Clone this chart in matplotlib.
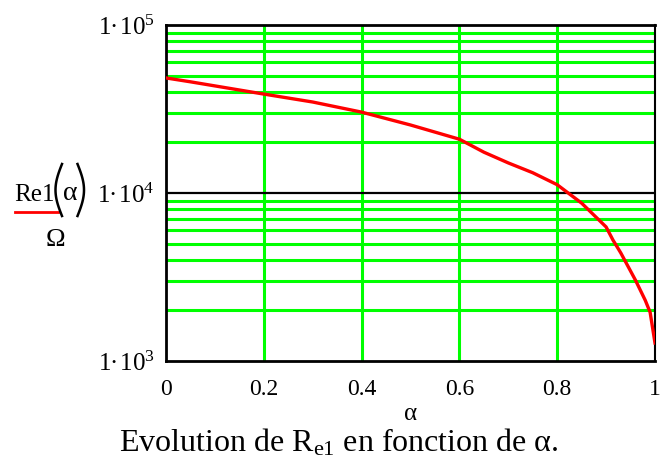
import matplotlib
matplotlib.use("Agg")
import matplotlib.pyplot as plt
import numpy as np

# alpha values and Re1(alpha) in ohms
alpha = [0.0, 0.05, 0.1, 0.2, 0.3, 0.4, 0.5, 0.6, 0.65, 0.7, 0.75, 0.8, 0.85, 0.9, 0.914, 0.93, 0.96, 0.98, 0.99, 1.0]
re1 = [48400, 45900, 43400, 38800, 34800, 30300, 25400, 20900, 17500, 15100, 13200, 11200, 8700, 6280, 5250, 4400, 3030, 2300, 1950, 1280]

xticks = [0, 0.2, 0.4, 0.6, 0.8, 1]
xlabels = ["0", "0.2", "0.4", "0.6", "0.8", "1"]
yticks = [1e3, 1e4, 1e5]
ylabels = [r"$1{\bullet}\,10^{3}$", r"$1{\bullet}\,10^{4}$", r"$1{\bullet}\,10^{5}$"]

plt.rcParams["font.family"] = ["Liberation Serif", "DejaVu Serif"]
plt.rcParams["mathtext.fontset"] = "custom"
plt.rcParams["mathtext.rm"] = "Liberation Serif"
plt.rcParams["mathtext.it"] = "Liberation Serif:italic"
plt.rcParams["mathtext.bf"] = "Liberation Serif:bold"

W, H = 661, 465
fig = plt.figure(figsize=(W / 100, H / 100), dpi=100)
ax = fig.add_axes([166 / W, 1 - 361 / H, 489 / W, 336 / H])

green = "#00ff00"
# minor decade lines in green, decade line in black
for dec in [1e3, 1e4]:
    for m in range(2, 10):
        ax.axhline(dec * m, color=green, lw=2.2, zorder=1)
ax.axhline(1e4, color="black", lw=1.6, zorder=2)
for xv in [0.2, 0.4, 0.6, 0.8]:
    ax.axvline(xv, color=green, lw=2.2, zorder=1)

ax.plot(alpha, re1, color="red", lw=2.4, zorder=3)

ax.set_yscale("log")
ax.set_xlim(0, 1)
ax.set_ylim(1e3, 1e5)
ax.set_xticks(xticks)
ax.set_xticklabels(xlabels, fontsize=17)
ax.set_yticks(yticks)
ax.set_yticklabels(ylabels, fontsize=18)
ax.yaxis.set_minor_locator(matplotlib.ticker.NullLocator())
ax.tick_params(axis="x", length=0, pad=13)
ax.tick_params(axis="y", length=0, pad=8)
for s in ax.spines.values():
    s.set_linewidth(2)
    s.set_color("black")
ax.spines["right"].set_linewidth(1.5)

ax.set_xlabel("α", fontsize=18, labelpad=2)

# y-axis label drawn piece by piece: Re1(α) over Ω
fig.text(14 / W, 1 - 201 / H, "Re1", fontsize=18, ha="left", va="baseline")
fig.add_artist(plt.Line2D([15 / W, 58 / W], [1 - 212 / H, 1 - 212 / H], color="red", lw=2))
t = np.linspace(0, np.pi, 40)
py = 1 - (164 + 52 * t / np.pi) / H
fig.add_artist(plt.Line2D((62 - 6.5 * np.sin(t)) / W, py, color="black", lw=1.8))
fig.add_artist(plt.Line2D((77.5 + 6.5 * np.sin(t)) / W, py, color="black", lw=1.8))
fig.text(70 / W, 1 - 193 / H, "α", fontsize=20, ha="center", va="center")
fig.text(55 / W, 1 - 240 / H, "Ω", fontsize=19, ha="center", va="center")

fig.text(339 / W, 1 - 443 / H, r"Evolution de R$_{\mathrm{e1}}$ en fonction de α.",
         fontsize=23, ha="center", va="center")

fig.savefig("out.png", dpi=100)
